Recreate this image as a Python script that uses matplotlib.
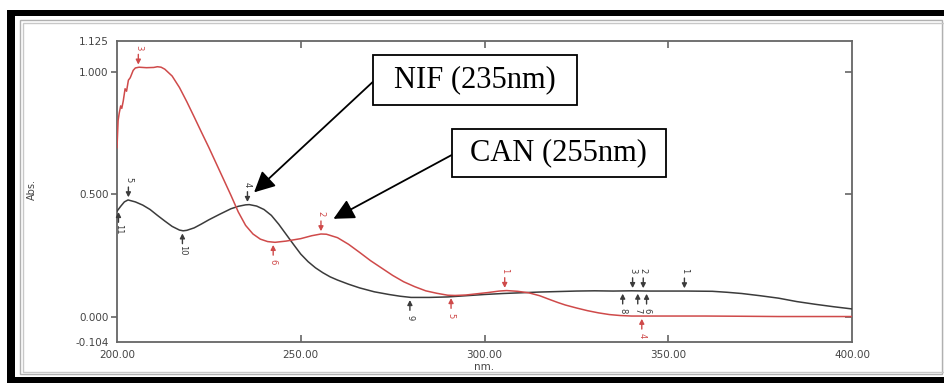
import numpy as np
import matplotlib
matplotlib.use("Agg")
import matplotlib.pyplot as plt
from matplotlib.patches import Rectangle

# ---------------- data ----------------
nif_wl = [200, 201, 202, 203, 205, 207, 209, 211, 213, 215, 217, 218, 219, 221, 223,
          225, 228, 231, 233, 235, 236, 238, 240, 242, 244, 246, 248, 250, 252, 254,
          256, 258, 260, 263, 266, 270, 274, 277, 280, 285, 290, 295, 300, 305, 310,
          315, 320, 325, 330, 335, 340, 345, 350, 355, 362, 366, 370, 375, 380, 385,
          390, 395, 400]
nif_abs = [0.430, 0.450, 0.468, 0.476, 0.468, 0.455, 0.437, 0.413, 0.390, 0.368, 0.353,
           0.350, 0.352, 0.362, 0.378, 0.395, 0.418, 0.440, 0.450, 0.456, 0.457, 0.451,
           0.437, 0.413, 0.377, 0.336, 0.295, 0.255, 0.224, 0.199, 0.179, 0.162, 0.149,
           0.132, 0.117, 0.101, 0.090, 0.083, 0.078, 0.078, 0.080, 0.085, 0.090, 0.094,
           0.097, 0.100, 0.102, 0.104, 0.105, 0.104, 0.105, 0.104, 0.104, 0.104, 0.103,
           0.099, 0.094, 0.085, 0.075, 0.061, 0.050, 0.040, 0.031]

can_wl = [200.0, 200.3, 200.6, 201.0, 201.3, 201.7, 202.2, 202.6, 203.1, 203.6, 204.4,
          205.0, 206, 208, 210, 211, 212, 213, 215, 217, 219, 221, 223, 225, 227, 229,
          231, 233, 235, 237, 239, 241, 243, 246, 250, 253, 255.5, 257, 260, 263, 266,
          269, 272, 275, 278, 281, 284, 287, 290, 292, 295, 298, 301, 304, 306, 309,
          312, 315, 318, 320, 322, 325, 328, 331, 334, 337, 340, 350, 360, 371, 380, 390, 400]
can_abs = [0.690, 0.800, 0.830, 0.860, 0.850, 0.880, 0.930, 0.920, 0.965, 0.975, 1.005,
           1.015, 1.018, 1.016, 1.017, 1.020, 1.018, 1.010, 0.982, 0.935, 0.877, 0.815,
           0.752, 0.690, 0.625, 0.560, 0.495, 0.427, 0.372, 0.337, 0.316, 0.306, 0.303,
           0.308, 0.318, 0.330, 0.337, 0.336, 0.322, 0.295, 0.262, 0.228, 0.198, 0.168,
           0.142, 0.122, 0.105, 0.095, 0.087, 0.086, 0.088, 0.093, 0.098, 0.104, 0.106,
           0.103, 0.097, 0.085, 0.068, 0.057, 0.047, 0.035, 0.024, 0.015, 0.008, 0.004,
           0.002, 0.002, 0.002, 0.001, 0.000, 0.000, 0.000]

# peak / valley picks: (wavelength, label)
nif_peaks = [(203.1, "5"), (235.5, "4"), (340.3, "3"), (343.2, "2"), (354.4, "1")]
nif_valleys = [(200.4, "11"), (217.8, "10"), (279.7, "9"), (337.6, "8"), (341.7, "7"), (344.1, "6")]
can_peaks = [(205.8, "3"), (255.5, "2"), (305.5, "1")]
can_valleys = [(242.5, "6"), (290.9, "5"), (342.8, "4")]

x_ticks = [200, 250, 300, 350, 400]
x_ticklabels = ["200.00", "250.00", "300.00", "350.00", "400.00"]
y_ticks = [-0.104, 0.0, 0.5, 1.0, 1.125]
y_ticklabels = ["-0.104", "0.000", "0.500", "1.000", "1.125"]

nif_label = "NIF (235nm)"
can_label = "CAN (255nm)"
nif_arrow_target = (237.3, 0.507)
can_arrow_target = (258.9, 0.399)

# ---------------- figure ----------------
W, H = 944, 383
fig = plt.figure(figsize=(W / 100, H / 100), dpi=100)
fig.patch.set_facecolor("white")

def fx(px):
    return px / W

def fy(py):
    return 1 - py / H

ax_l, ax_r, ax_t, ax_b = 117, 852, 41, 342
ax = fig.add_axes([fx(ax_l), fy(ax_b), fx(ax_r - ax_l), (ax_b - ax_t) / H])

black_c = "#3b3b3b"
red_c = "#cf4a4a"
ax.plot(nif_wl, nif_abs, color=black_c, lw=1.1, zorder=3)
ax.plot(can_wl, can_abs, color=red_c, lw=1.1, zorder=3)
ax.set_xlim(200, 400)
ax.set_ylim(-0.104, 1.125)

spine_c = "#666666"
for s in ax.spines.values():
    s.set_color(spine_c)
    s.set_linewidth(1.3)

tick_font = dict(family="DejaVu Sans", size=7.5, color="#444444")
ax.set_xticks(x_ticks)
ax.set_xticklabels(x_ticklabels, **tick_font)
ax.set_yticks(y_ticks)
ax.set_yticklabels(y_ticklabels, **tick_font)
ax.tick_params(axis="x", direction="in", length=5, width=1.2, color=spine_c, pad=6)
ax.tick_params(axis="y", direction="out", length=4, width=1.2, color=spine_c, pad=2)
for t in ax.xaxis.get_major_ticks():
    if t.get_loc() in (200, 400):
        t.tick1line.set_visible(False)
for t in ax.yaxis.get_major_ticks():
    if t.get_loc() in (-0.104, 1.125):
        t.tick1line.set_visible(False)

sec_x = ax.secondary_xaxis("top")
sec_x.set_xticks([250, 300, 350])
sec_x.tick_params(direction="in", length=5, width=1.2, color=spine_c, labeltop=False)
sec_x.spines["top"].set_visible(False)
sec_y = ax.secondary_yaxis("right")
sec_y.set_yticks([0.0, 0.5, 1.0])
sec_y.tick_params(direction="in", length=5, width=1.2, color=spine_c, labelright=False)
sec_y.spines["right"].set_visible(False)

ax.set_xlabel("nm.", fontsize=7.5, color="#444444", labelpad=1)
ax.xaxis.set_label_coords(0.5, -0.065)
ax.set_ylabel("Abs.", fontsize=7, color="#444444")
ax.yaxis.set_label_coords(-0.109, 0.505)

# peak markers
def mark(wl, lab, xs, ys, color, above):
    y = float(np.interp(wl, xs, ys))
    s = 1 if above else -1
    ax.annotate("", xy=(wl, y), xycoords="data",
                xytext=(0, s * 13), textcoords="offset pixels",
                arrowprops=dict(arrowstyle="-|>,head_length=0.35,head_width=0.18",
                                color=color, lw=1.0, shrinkA=0, shrinkB=2,
                                mutation_scale=8), zorder=4)
    ax.annotate(lab, xy=(wl, y), xycoords="data",
                xytext=(0, s * 20), textcoords="offset pixels",
                rotation=-90, ha="center", va="center", fontsize=6,
                color=color, zorder=4)

for wl, lab in nif_peaks:
    mark(wl, lab, nif_wl, nif_abs, black_c, True)
for wl, lab in nif_valleys:
    mark(wl, lab, nif_wl, nif_abs, black_c, False)
for wl, lab in can_peaks:
    mark(wl, lab, can_wl, can_abs, red_c, True)
for wl, lab in can_valleys:
    mark(wl, lab, can_wl, can_abs, red_c, False)

# call-out boxes with arrows
def callout(text, box, target):
    x0, y0, x1, y1 = box  # image pixel coords
    fig.add_artist(Rectangle((fx(x0), fy(y1)), fx(x1 - x0), (y1 - y0) / H,
                             transform=fig.transFigure, fill=True, facecolor="white",
                             edgecolor="black", lw=1.3, zorder=10))
    fig.text(fx((x0 + x1) / 2), fy((y0 + y1) / 2), text, ha="center", va="center",
             family="Liberation Serif", fontsize=22, color="black", zorder=11)
    ax.annotate("", xy=target, xycoords="data",
                xytext=(fx(x0), fy((y0 + y1) / 2 + 2)), textcoords="figure fraction",
                arrowprops=dict(arrowstyle="-|>,head_length=0.9,head_width=0.45",
                                color="black", lw=1.3, shrinkA=0, shrinkB=0,
                                mutation_scale=14), zorder=9, annotation_clip=False)

callout(nif_label, (372.7, 55, 576.7, 105), nif_arrow_target)
callout(can_label, (451.7, 129.3, 666, 176.7), can_arrow_target)

# outer frames
def frect(x0, y0, x1, y1, **kw):
    fig.add_artist(Rectangle((fx(x0), fy(y1)), fx(x1 - x0), (y1 - y0) / H,
                             transform=fig.transFigure, **kw))

frect(7, 10, 15, 383, facecolor="black", edgecolor="none")
frect(7, 10, 944, 16, facecolor="black", edgecolor="none")
frect(7, 377, 944, 383, facecolor="black", edgecolor="none")
frect(20, 20, 941.5, 374, fill=False, edgecolor="#b0b0b0", lw=1.0)
frect(22.7, 22.7, 943.5, 371.7, fill=False, edgecolor="#c8c8c8", lw=1.0)

fig.savefig("out.png", dpi=100, facecolor="white")
